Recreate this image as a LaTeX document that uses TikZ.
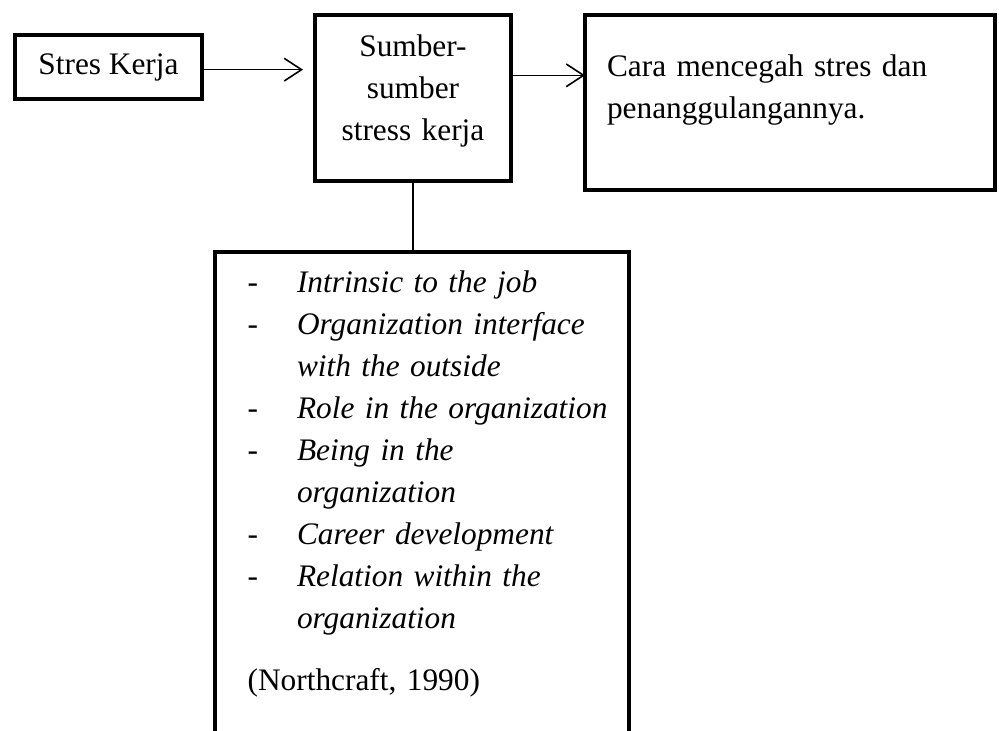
\documentclass[tikz,border=0pt]{standalone}
\usepackage{fontspec}
\setmainfont{Liberation Serif}
\usetikzlibrary{arrows.meta,positioning}

\newcommand{\butir}[1]{\mbox{\makebox[37pt][l]{-}\textit{#1}}}
\newcommand{\lanjut}[1]{\mbox{\hspace*{37pt}\textit{#1}}}

\begin{document}
\begin{tikzpicture}[x=0.75pt,y=-0.75pt,
  kotak/.style={draw,line width=3.4pt,outer sep=0pt,inner sep=0pt,
    font=\fontsize{23.5}{31.5}\selectfont},
  panah/.style={line width=1.2pt,-{Straight Barb[length=13pt,width=17pt]}}]

\useasboundingbox (0,0) rectangle (999,731);
\clip (0,0) rectangle (999,731);

\node[kotak,minimum width=140.25pt,minimum height=48pt] (stres) at (108.5,67){Stres Kerja};
\node[kotak,text width=147pt,align=center,text height=31.5pt,text depth=93pt] (sumber) at (413,98){Sumber-\\sumber\\stress kerja};
\node[kotak,text width=274.5pt,inner xsep=16.5pt,align=left,text height=46.5pt,text depth=84.75pt] (cara) at (790,102.5){Cara mencegah stres dan\\penanggulangannya.};
\node[kotak,anchor=north west,text width=261.5pt,inner xsep=24.5pt,align=left,text height=30pt,text depth=373.5pt] (faktor) at (215,252){%
\butir{Intrinsic to the job}\\
\butir{Organization interface}\\
\lanjut{with the outside}\\
\butir{Role in the organization}\\
\butir{Being in the}\\
\lanjut{organization}\\
\butir{Career development}\\
\butir{Relation within the}\\
\lanjut{organization}\\[15pt]
(Northcraft, 1990)};

\draw[panah,shorten >=9pt] ([yshift=-2pt]stres.east) -- ([yshift=-2pt]stres.east -| sumber.west);
\draw[panah] ([yshift=17pt]sumber.east) -- ([yshift=17pt]sumber.east -| cara.west);
\draw[line width=1.2pt] (sumber.south) -- (sumber.south |- faktor.north);

\end{tikzpicture}
\end{document}
